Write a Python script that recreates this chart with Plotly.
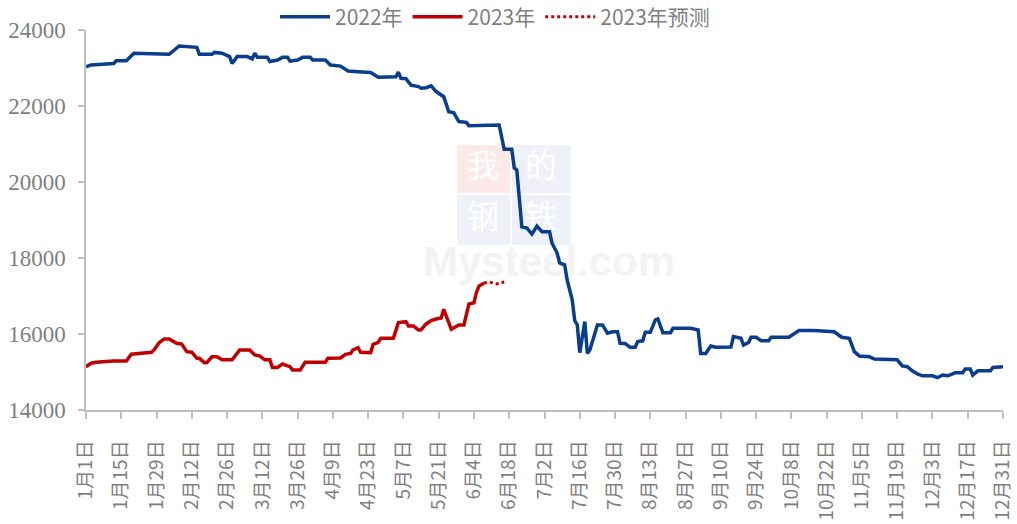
import pandas as pd
import plotly.graph_objects as go

# ---------------- data (day offset from Jan 1, value) ----------------
days_2022 = [0, 2, 11, 12, 16, 19, 33, 37, 44, 45, 50, 51, 54, 57, 58, 60, 64, 66, 67, 68,
             72, 73, 76, 78, 80, 81, 84, 86, 89, 90, 95, 97, 101, 104, 108, 113, 116, 123, 124, 125,
             127, 129, 132, 133, 135, 137, 139, 142, 144, 146, 148, 151, 152, 156, 158, 164, 166, 169, 170, 171,
             173, 175, 177, 179, 181, 184, 185, 187, 188, 190, 191, 193, 194, 195, 196, 198, 199, 200, 203, 205,
             207, 209, 211, 212, 214, 216, 218, 219, 221, 222, 224, 226, 227, 229, 232, 233, 240, 243, 244, 246,
             248, 250, 256, 257, 260, 261, 263, 264, 266, 268, 271, 272, 279, 281, 283, 289, 297, 300, 303, 305,
             307, 311, 313, 322, 324, 326, 328, 330, 332, 336, 338, 340, 342, 344, 345, 348, 349, 351, 352, 354,
             359, 360, 364]
values_2022 = [23030, 23080, 23120, 23190, 23190, 23390, 23360, 23580, 23545, 23360, 23360, 23410, 23390, 23300, 23120, 23300, 23300, 23240, 23390, 23280,
               23280, 23170, 23210, 23280, 23280, 23180, 23210, 23280, 23280, 23210, 23210, 23080, 23050, 22920, 22900, 22880, 22755, 22770, 22890, 22730,
               22720, 22550, 22510, 22470, 22480, 22530, 22380, 22245, 21850, 21820, 21590, 21570, 21480, 21480, 21500, 21500, 20860, 20860, 20370, 20320,
               18820, 18790, 18630, 18840, 18690, 18690, 18390, 18130, 17870, 17820, 17420, 16900, 16350, 16250, 15510, 16325, 15490, 15580, 16240, 16240,
               16020, 16060, 16060, 15755, 15750, 15650, 15650, 15800, 15820, 16045, 16045, 16370, 16395, 16035, 16035, 16150, 16150, 16105, 15490, 15490,
               15685, 15650, 15655, 15930, 15885, 15710, 15780, 15915, 15915, 15825, 15825, 15915, 15915, 16000, 16090, 16090, 16060, 15915, 15885, 15535,
               15420, 15400, 15340, 15320, 15160, 15140, 15030, 14950, 14900, 14900, 14850, 14920, 14900, 14950, 14980, 14980, 15080, 15080, 14920, 15030,
               15030, 15120, 15140]

days_2023 = [0, 2, 4, 11, 16, 18, 26, 27, 29, 31, 33, 35, 36, 38, 40, 42, 44, 45, 47, 48,
             50, 52, 54, 58, 61, 65, 67, 69, 71, 73, 74, 76, 78, 80, 81, 82, 85, 87, 95, 96,
             98, 101, 103, 105, 106, 108, 109, 113, 114, 116, 117, 122, 124, 127, 128, 130, 132, 133, 135, 137,
             139, 141, 142, 145, 148, 150, 152, 154, 155, 156, 158]
values_2023 = [15140, 15230, 15255, 15290, 15290, 15470, 15520, 15580, 15770, 15870, 15870, 15800, 15755, 15735, 15535, 15520, 15360, 15360, 15245, 15250,
               15400, 15400, 15320, 15320, 15580, 15580, 15450, 15420, 15320, 15320, 15120, 15120, 15210, 15160, 15140, 15050, 15050, 15255, 15255, 15360,
               15370, 15370, 15465, 15490, 15580, 15640, 15520, 15510, 15730, 15780, 15885, 15885, 16300, 16325, 16210, 16210, 16105, 16110, 16265, 16350,
               16395, 16420, 16650, 16125, 16240, 16240, 16790, 16820, 17100, 17260, 17340]

days_forecast = [158, 160, 163, 166]
values_forecast = [17340, 17370, 17320, 17370]

tick_days = list(range(0, 365, 14))
tick_labels = ["1月1日", "1月15日", "1月29日", "2月12日", "2月26日", "3月12日", "3月26日",
               "4月9日", "4月23日", "5月7日", "5月21日", "6月4日", "6月18日", "7月2日",
               "7月16日", "7月30日", "8月13日", "8月27日", "9月10日", "9月24日", "10月8日",
               "10月22日", "11月5日", "11月19日", "12月3日", "12月17日", "12月31日"]

series_names = ["2022年", "2023年", "2023年预测"]
series_colors = ["#0a3d8c", "#c00000", "#c00000"]

watermark_chars = ["我", "的", "钢", "铁"]
watermark_brand = "Mysteel.com"

base = pd.Timestamp("2022-01-01")
x_span_days = 364
y_lo, y_hi = 14000, 24000


def to_dates(days):
    return [base + pd.Timedelta(days=d) for d in days]


def frac_x(f):
    return base + pd.Timedelta(days=f * x_span_days)


def frac_y(f):
    return y_lo + f * (y_hi - y_lo)


fig = go.Figure()

# watermark (faint), drawn beneath the data
wm_boxes = [
    (0.4046, 0.571, 0.4624, 0.697, "#fce9e9"),
    (0.4646, 0.571, 0.5289, 0.697, "#eef1f7"),
    (0.4046, 0.434, 0.4624, 0.566, "#eef1f7"),
    (0.4646, 0.434, 0.5289, 0.566, "#eef1f7"),
]
for x0, y0, x1, y1, c in wm_boxes:
    fig.add_shape(type="rect", xref="paper", yref="paper", x0=x0, y0=y0, x1=x1, y1=y1,
                  fillcolor=c, line=dict(width=0), layer="below")
wm_fx = [0.433, 0.496, 0.433, 0.496]
wm_fy = [0.634, 0.634, 0.5, 0.5]
fig.add_trace(go.Scatter(x=[frac_x(f) for f in wm_fx], y=[frac_y(f) for f in wm_fy],
                         mode="text", text=watermark_chars, showlegend=False, hoverinfo="skip",
                         textfont=dict(family="Noto Sans CJK SC", size=32, color="#ffffff")))
fig.add_trace(go.Scatter(x=[frac_x(0.505)], y=[frac_y(0.38)], mode="text",
                         text=["<b>" + watermark_brand + "</b>"], showlegend=False, hoverinfo="skip",
                         textfont=dict(family="Liberation Sans", size=42, color="#f3f3f3")))

fig.add_trace(go.Scatter(x=to_dates(days_2022), y=values_2022, mode="lines", name=series_names[0],
                         line=dict(color=series_colors[0], width=3.5)))
fig.add_trace(go.Scatter(x=to_dates(days_2023), y=values_2023, mode="lines", name=series_names[1],
                         line=dict(color=series_colors[1], width=3.5)))
fig.add_trace(go.Scatter(x=to_dates(days_forecast), y=values_forecast, mode="lines", name=series_names[2],
                         line=dict(color=series_colors[2], width=3, dash="dot")))

fig.update_layout(
    width=1017, height=524,
    margin=dict(l=86, r=14, t=30, b=114, autoexpand=False),
    paper_bgcolor="white", plot_bgcolor="white",
    showlegend=True,
    legend=dict(orientation="h", x=0.446, xanchor="center", y=1.034, yanchor="middle",
                font=dict(family="Noto Sans CJK SC, Liberation Sans", size=21, color="#7f7f7f"),
                itemwidth=50,
                bgcolor="rgba(0,0,0,0)", traceorder="normal"),
    xaxis=dict(
        type="date",
        range=[base, base + pd.Timedelta(days=x_span_days)],
        tickmode="array",
        tickvals=to_dates(tick_days),
        ticktext=tick_labels,
        tickangle=-90,
        ticks="outside", ticklen=7, tickcolor="#bfbfbf", tickwidth=1.5,
        showline=True, linecolor="#bfbfbf", linewidth=1.5,
        showgrid=False, zeroline=False, automargin=False,
        ticklabelstandoff=14,
        tickfont=dict(family="Noto Sans CJK SC, Liberation Sans", size=19, color="#7f7f7f"),
    ),
    yaxis=dict(
        range=[y_lo, y_hi],
        tickmode="linear", tick0=y_lo, dtick=2000, tickformat="d",
        ticks="outside", ticklen=6, tickcolor="#bfbfbf", tickwidth=1.5,
        showline=True, linecolor="#bfbfbf", linewidth=1.5,
        showgrid=False, zeroline=False, automargin=False,
        ticklabelstandoff=8,
        tickfont=dict(family="Liberation Serif", size=23, color="#7f7f7f"),
    ),
)

fig.write_html("out.html", config={"displayModeBar": False},
               post_script="document.body.style.margin='0px';document.body.style.overflow='hidden';")
